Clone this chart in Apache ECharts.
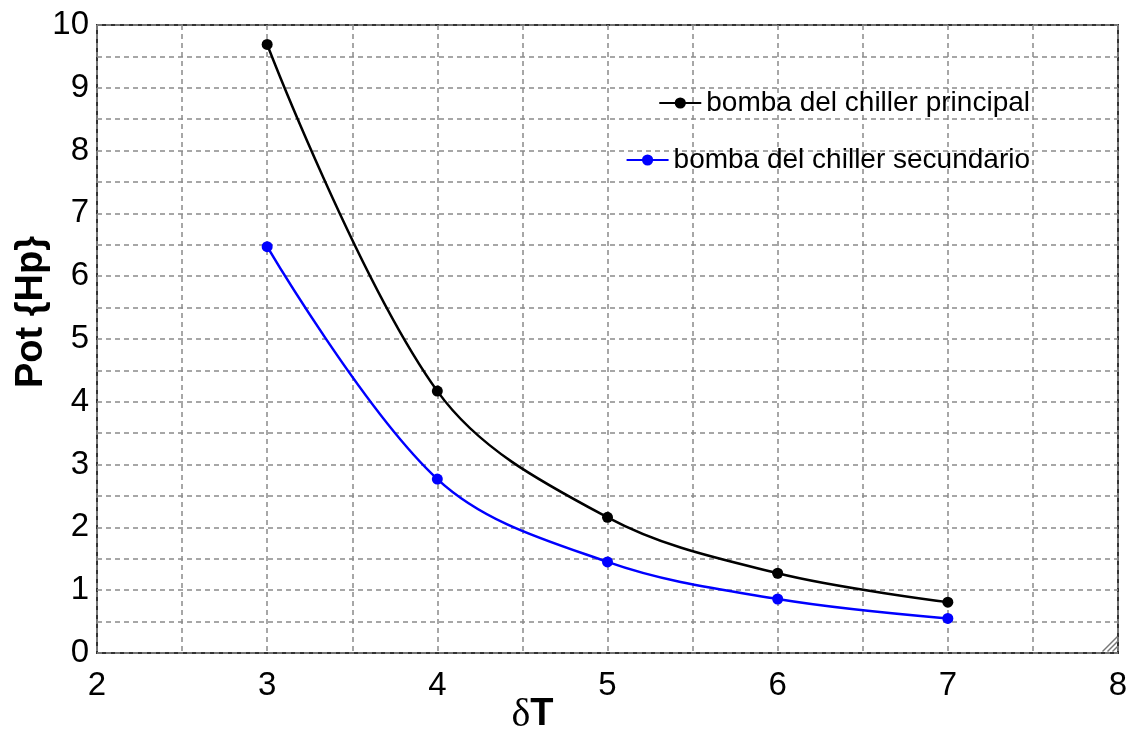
<!DOCTYPE html>
<html>
<head>
<meta charset="utf-8">
<script src="https://cdn.jsdelivr.net/npm/echarts@6/dist/echarts.min.js"></script>
<style>
  html, body { margin: 0; padding: 0; background: #fff; }
  #chart { width: 1132px; height: 733px; }
</style>
</head>
<body>
<div id="chart"></div>
<script>
// Temperature difference (δT) values
const deltaT = [3, 4, 5, 6, 7];
// Pump power, Hp
const principal = [9.69, 4.17, 2.16, 1.27, 0.81];
const secundario = [6.47, 2.77, 1.45, 0.86, 0.55];
const seriesNames = ['bomba del chiller principal', 'bomba del chiller secundario'];

const FONT = '"Liberation Sans", Arial, sans-serif';

const pairs = (ys) => deltaT.map((x, i) => [x, ys[i]]);
const intLabel = (v) => (Math.abs(v - Math.round(v)) < 1e-9 ? String(Math.round(v)) : '');

const gridLine = { show: true, lineStyle: { color: '#8a8a8a', width: 1.5, type: [5, 4] } };

const chart = echarts.init(document.getElementById('chart'), null, { renderer: 'canvas' });

chart.setOption({
  backgroundColor: '#ffffff',
  animation: false,
  grid: {
    left: 97, right: 14, top: 25, bottom: 80,
    outerBoundsMode: 'none', containLabel: false,
    show: true, borderColor: '#333', borderWidth: 2, backgroundColor: 'transparent'
  },
  xAxis: {
    type: 'value', min: 2, max: 8, interval: 0.5,
    axisLine: { show: false }, axisTick: { show: false },
    splitLine: gridLine,
    axisLabel: { formatter: intLabel, color: '#000', fontFamily: FONT, fontSize: 33, margin: 16 },
    name: '{d|δ}{t|T}', nameLocation: 'middle', nameGap: 42, nameMoveOverlap: false,
    nameTextStyle: {
      // axis title sits left of the axis centre
      padding: [0, 150, 0, 0],
      rich: {
        d: { fontFamily: '"Liberation Serif", "DejaVu Serif", serif', fontSize: 40, color: '#000' },
        t: { fontFamily: FONT, fontWeight: 'bold', fontSize: 38, color: '#000' }
      }
    }
  },
  yAxis: {
    type: 'value', min: 0, max: 10, interval: 0.5,
    axisLine: { show: false }, axisTick: { show: false },
    splitLine: gridLine,
    axisLabel: { formatter: intLabel, color: '#000', fontFamily: FONT, fontSize: 33, margin: 8 },
    name: 'Pot {Hp}', nameLocation: 'middle', nameGap: 46, nameRotate: 90, nameMoveOverlap: false,
    nameTextStyle: {
      fontFamily: FONT, fontWeight: 'bold', fontSize: 38, color: '#000',
      padding: [0, 0, 0, 54]
    }
  },
  legend: [
    {
      data: [seriesNames[0]], right: 102, top: 89, padding: 0,
      itemWidth: 42, itemHeight: 14,
      textStyle: { fontFamily: FONT, fontSize: 28, color: '#000' }
    },
    {
      data: [seriesNames[1]], right: 102, top: 146, padding: 0,
      itemWidth: 42, itemHeight: 14,
      textStyle: { fontFamily: FONT, fontSize: 28, color: '#000' }
    }
  ],
  series: [
    {
      name: seriesNames[0], type: 'line', data: pairs(principal),
      smooth: 0.35,
      symbol: 'circle', symbolSize: 11,
      lineStyle: { color: '#000', width: 2.5 }, itemStyle: { color: '#000' }
    },
    {
      name: seriesNames[1], type: 'line', data: pairs(secundario),
      smooth: 0.35,
      symbol: 'circle', symbolSize: 11,
      lineStyle: { color: '#0000ff', width: 2.5 }, itemStyle: { color: '#0000ff' }
    }
  ],
  graphic: [
    {
      // resize grip in the lower-right corner of the plot frame
      type: 'group', left: 1100, top: 634,
      children: [0, 5, 10].map((o) => ({
        type: 'line',
        shape: { x1: o, y1: 15, x2: 15, y2: o },
        style: { stroke: '#777', lineWidth: 1.5 }
      }))
    }
  ]
});
</script>
</body>
</html>
